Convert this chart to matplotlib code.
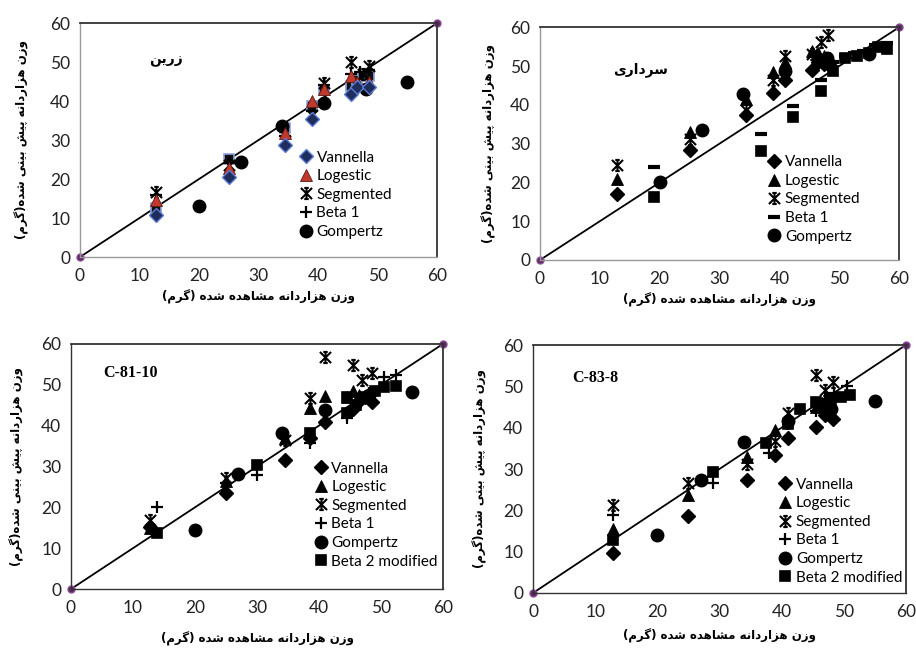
import matplotlib
matplotlib.use('Agg')
from matplotlib import pyplot as plt
from matplotlib.path import Path

# ---- data (observed x, predicted y) ----
# panel 1: Zarin
z_van_x = [12.8, 25, 34.5, 39, 45.5, 46.5, 48.5]
z_van_y = [10.9, 20.5, 28.8, 35.4, 41.9, 43.5, 43.6]
z_log_x = [12.8, 25, 34.5, 39, 41, 45.5, 46.5, 48.5]
z_log_y = [14.7, 22.8, 31.8, 39.9, 43, 46.5, 45, 45]
z_seg_x = [12.8, 25, 34.5, 39, 41, 45.5, 47.5, 48.5]
z_seg_y = [16.6, 23.5, 29.7, 36.5, 44.6, 49.9, 47, 48.9]
z_b1_x = [12.8, 25, 34.5, 39, 41, 45.5, 47, 48.5]
z_b1_y = [15.8, 24, 31, 37.5, 44, 47, 47.5, 48]
z_gom_x = [20, 27, 34, 41, 48, 55]
z_gom_y = [13, 24.4, 33.7, 39.5, 43.1, 44.8]
z_b2_x = [12.8, 25, 34.5, 39, 41, 45.5, 46.5, 47.5, 48.5]
z_b2_y = [12.6, 25.1, 33.2, 38.8, 42.9, 43.8, 45.5, 46.5, 46.5]

# panel 2: Sardari
s_van_x = [12.8, 25, 34.5, 39, 41, 45.5, 46.5, 47.5, 48.5]
s_van_y = [17.1, 28.3, 37.3, 43, 46.3, 49, 51, 50.5, 50]
s_log_x = [12.8, 25, 34.5, 39, 41, 45.5, 46.5, 47.5, 48.5]
s_log_y = [21, 33, 41.6, 48.6, 51, 54, 53.5, 52.5, 52]
s_seg_x = [12.8, 25, 34.5, 39, 41, 45.5, 47, 48.1]
s_seg_y = [24.4, 31.3, 38.6, 46.3, 52.7, 53, 56.1, 58.1]
s_b1_x = [19, 37, 42.3, 47, 49, 51, 52.5, 54, 56, 58]
s_b1_y = [24, 32.6, 39.8, 46.3, 51, 52.5, 53.5, 54, 55.5, 56]
s_gom_x = [20, 27, 34, 41, 48, 55]
s_gom_y = [20.1, 33.6, 42.8, 48.8, 52, 53.1]
s_b2_x = [19, 37, 42.3, 47, 49, 51, 53, 55, 56.5, 58]
s_b2_y = [16.3, 28.1, 36.8, 43.5, 48.8, 52, 52.5, 53.5, 55, 54.5]

# panel 3: C-81-10
c1_van_x = [12.8, 25, 34.5, 38.5, 41, 45.5, 46.5, 47.5, 48.5]
c1_van_y = [15.3, 23.6, 31.5, 36.9, 41, 44, 46, 47, 45.8]
c1_log_x = [12.8, 25, 34.5, 38.5, 41, 44.5, 45.5, 46.5, 47.5]
c1_log_y = [15, 26.5, 37, 44.3, 47.3, 47, 48.5, 47.5, 47.2]
c1_seg_x = [12.8, 25, 34.5, 38.5, 41, 45.5, 47, 48.5]
c1_seg_y = [17, 27.1, 36.5, 46.7, 56.7, 54.8, 51.2, 53]
c1_b1_x = [13.8, 25, 30, 38.5, 44.5, 46, 48, 50.5, 52.5]
c1_b1_y = [20, 26, 28, 35.7, 41.8, 45.5, 48, 52, 52.5]
c1_gom_x = [20, 27, 34, 41, 48, 55]
c1_gom_y = [14.5, 28.2, 38.3, 43.8, 47.5, 48.2]
c1_b2_x = [13.8, 30, 38.5, 44.5, 44.5, 46, 47.5, 49, 50.5, 52.5]
c1_b2_y = [13.7, 30.4, 38.3, 46.9, 43, 45, 47, 48.5, 49.5, 49.8]

# panel 4: C-83-8
c2_van_x = [12.8, 25, 34.5, 39, 41, 45.5, 47, 48.3]
c2_van_y = [9.7, 18.7, 27.3, 33.4, 37.6, 40.1, 43, 42.1]
c2_log_x = [12.8, 25, 34.5, 39, 41, 45.5, 46.5, 47.5]
c2_log_y = [15.6, 23.7, 33, 39.4, 42.6, 45, 46, 45.5]
c2_seg_x = [12.8, 25, 34.5, 39, 41, 45.5, 47, 48.3]
c2_seg_y = [21.2, 26.5, 31.3, 36.8, 43.5, 52.7, 49, 51]
c2_b1_x = [12.8, 29, 38, 41, 45.5, 47, 48.5, 50.5]
c2_b1_y = [18.8, 26.5, 33.8, 41, 44, 47, 48.5, 50]
c2_gom_x = [20, 27, 34, 41, 48, 55]
c2_gom_y = [14.1, 27.3, 36.6, 41.5, 44.5, 46.4]
c2_b2_x = [12.8, 29, 37.5, 41, 43, 45.5, 46.5, 48, 49.5, 51]
c2_b2_y = [12.8, 29.3, 36.3, 41, 44.4, 46.3, 45, 47, 47.5, 47.8]

ticks = [0, 10, 20, 30, 40, 50, 60]

# ---- minimal persian shaping (matplotlib has no arabic shaping) ----
FORMS = {
    'ا': ('\uFE8D', '\uFE8E', None, None),
    'ب': ('\uFE8F', '\uFE90', '\uFE91', '\uFE92'),
    'پ': ('\uFB56', '\uFB57', '\uFB58', '\uFB59'),
    'د': ('\uFEA9', '\uFEAA', None, None),
    'ر': ('\uFEAD', '\uFEAE', None, None),
    'ز': ('\uFEAF', '\uFEB0', None, None),
    'س': ('\uFEB1', '\uFEB2', '\uFEB3', '\uFEB4'),
    'ش': ('\uFEB5', '\uFEB6', '\uFEB7', '\uFEB8'),
    'م': ('\uFEE1', '\uFEE2', '\uFEE3', '\uFEE4'),
    'ن': ('\uFEE5', '\uFEE6', '\uFEE7', '\uFEE8'),
    'ه': ('\uFEE9', '\uFEEA', '\uFEEB', '\uFEEC'),
    'و': ('\uFEED', '\uFEEE', None, None),
    'ی': ('\uFBFC', '\uFBFD', '\uFBFE', '\uFBFF'),
    'گ': ('\uFB92', '\uFB93', '\uFB94', '\uFB95'),
}


def fa(s):
    out = []
    for i, c in enumerate(s):
        if c not in FORMS:
            out.append(c)
            continue
        f = FORMS[c]
        prev = s[i - 1] if i > 0 else ''
        nxt = s[i + 1] if i + 1 < len(s) else ''
        pc = prev in FORMS and FORMS[prev][2] is not None
        nc = nxt in FORMS and f[2] is not None
        if pc and nc:
            out.append(f[3])
        elif pc:
            out.append(f[1])
        elif nc:
            out.append(f[2])
        else:
            out.append(f[0])
    mirror = {'(': ')', ')': '('}
    return ''.join(mirror.get(c, c) for c in reversed(out))


xlab = fa('وزن هزاردانه مشاهده شده (گرم)')
ylab = fa('وزن هزاردانه پیش بینی شده(گرم)')

# excel-like star marker
star = Path([(-1, -1), (1, 1), (-1, 1), (1, -1), (0, -1), (0, 1),
             (-0.4, 1), (0.4, 1), (-0.4, -1), (0.4, -1)],
            [Path.MOVETO, Path.LINETO] * 5)

plt.rcParams['font.family'] = ['Lato', 'DejaVu Sans']

fig = plt.figure(figsize=(9.16, 6.5), dpi=100)
boxes = [[0.0873, 0.6046, 0.390, 0.360],
         [0.5895, 0.600, 0.392, 0.358],
         [0.0775, 0.0938, 0.406, 0.377],
         [0.5819, 0.0877, 0.407, 0.3815]]

panels = [
    dict(van=(z_van_x, z_van_y), log=(z_log_x, z_log_y), seg=(z_seg_x, z_seg_y),
         b1=(z_b1_x, z_b1_y), gom=(z_gom_x, z_gom_y), b2=(z_b2_x, z_b2_y),
         title=fa('زرین'), persian=True, b2leg=False, dash=False, colour=True,
         tpos=(0.24, 0.84), leg=(0.615, 0.455), ypad=15, xpad=4),
    dict(van=(s_van_x, s_van_y), log=(s_log_x, s_log_y), seg=(s_seg_x, s_seg_y),
         b1=(s_b1_x, s_b1_y), gom=(s_gom_x, s_gom_y), b2=(s_b2_x, s_b2_y),
         title=fa('سرداری'), persian=True, b2leg=False, dash=True, colour=False,
         tpos=(0.28, 0.82), leg=(0.635, 0.45), ypad=10, xpad=4),
    dict(van=(c1_van_x, c1_van_y), log=(c1_log_x, c1_log_y), seg=(c1_seg_x, c1_seg_y),
         b1=(c1_b1_x, c1_b1_y), gom=(c1_gom_x, c1_gom_y), b2=(c1_b2_x, c1_b2_y),
         title='C-81-10', persian=False, b2leg=True, dash=False, colour=False,
         tpos=(0.16, 0.88), leg=(0.655, 0.52), ypad=12, xpad=11),
    dict(van=(c2_van_x, c2_van_y), log=(c2_log_x, c2_log_y), seg=(c2_seg_x, c2_seg_y),
         b1=(c2_b1_x, c2_b1_y), gom=(c2_gom_x, c2_gom_y), b2=(c2_b2_x, c2_b2_y),
         title='C-83-8', persian=False, b2leg=True, dash=False, colour=False,
         tpos=(0.166, 0.867), leg=(0.66, 0.465), ypad=12, xpad=6),
]

for box, p in zip(boxes, panels):
    ax = fig.add_axes(box)
    if p['colour']:
        vfc, vec = '#1f2d5c', '#5b7bd5'
        lfc, lec = '#c0392b', '#5a1a14'
        sfc, sec = '#111111', '#8fa0dd'
    else:
        vfc = vec = lfc = lec = sfc = sec = 'black'

    # 1:1 line
    ax.plot([0, 60], [0, 60], color='black', lw=1.3, marker='o', ms=5,
            mfc='#5a2a5a', mec='#8a4a9a', clip_on=False, zorder=2)

    ax.plot(*p['b2'], ls='none', marker='s', ms=7, mfc=sfc, mec=sec, mew=1.2,
            label='Beta 2 modified' if p['b2leg'] else None, zorder=3)
    ax.plot(*p['gom'], ls='none', marker='o', ms=9, color='black',
            label='Gompertz', zorder=3)
    if p['dash']:
        ax.plot(*p['b1'], ls='none', marker='_', ms=9, mew=3, color='black',
                label='Beta 1', zorder=3)
    else:
        ax.plot(*p['b1'], ls='none', marker='+', ms=8, mew=1.6, color='black',
                label='Beta 1', zorder=3)
    ax.plot(*p['seg'], ls='none', marker=star, ms=8, mew=1.5, color='black',
            mfc='none', label='Segmented', zorder=3)
    ax.plot(*p['log'], ls='none', marker='^', ms=8, mfc=lfc, mec=lec, mew=0.6,
            label='Logestic', zorder=3)
    ax.plot(*p['van'], ls='none', marker='D', ms=7, mfc=vfc, mec=vec, mew=1.0,
            label='Vannella', zorder=4)

    ax.set_xlim(0, 60)
    ax.set_ylim(0, 60)
    ax.set_xticks(ticks)
    ax.set_yticks(ticks)
    ax.tick_params(length=0, labelsize=12.5, colors='#222222')
    ax.tick_params(axis='x', pad=8)
    ax.tick_params(axis='y', pad=7)
    for side in ['top', 'right']:
        ax.spines[side].set_color('#333333')
        ax.spines[side].set_linewidth(1.3)
    for side in ['left', 'bottom']:
        ax.spines[side].set_color('#999999' if p['persian'] else '#333333')
        ax.spines[side].set_linewidth(1.0)

    if p['persian']:
        ax.text(p['tpos'][0], p['tpos'][1], p['title'], transform=ax.transAxes,
                ha='center', va='center', fontsize=10, fontweight='bold',
                family='DejaVu Sans')
    else:
        ax.text(p['tpos'][0], p['tpos'][1], p['title'], transform=ax.transAxes,
                ha='center', va='center', fontsize=11.5, fontweight='bold',
                family='Liberation Serif')
    ax.set_xlabel(xlab, family='DejaVu Sans', fontweight='bold',
                  fontsize=8.5, labelpad=p['xpad'])
    ax.set_ylabel(ylab, family='DejaVu Sans', fontweight='bold', fontsize=8.5,
                  labelpad=p['ypad'])

    h, l = ax.get_legend_handles_labels()
    order = ['Vannella', 'Logestic', 'Segmented', 'Beta 1', 'Gompertz', 'Beta 2 modified']
    hh = [h[l.index(k)] for k in order if k in l]
    ll = [k for k in order if k in l]
    ax.legend(hh, ll, loc='upper left', bbox_to_anchor=p['leg'], frameon=False,
              fontsize=11, handlelength=0.8, handletextpad=0.3,
              labelspacing=0.3, borderpad=0, borderaxespad=0)

fig.savefig('out.png', dpi=100)
